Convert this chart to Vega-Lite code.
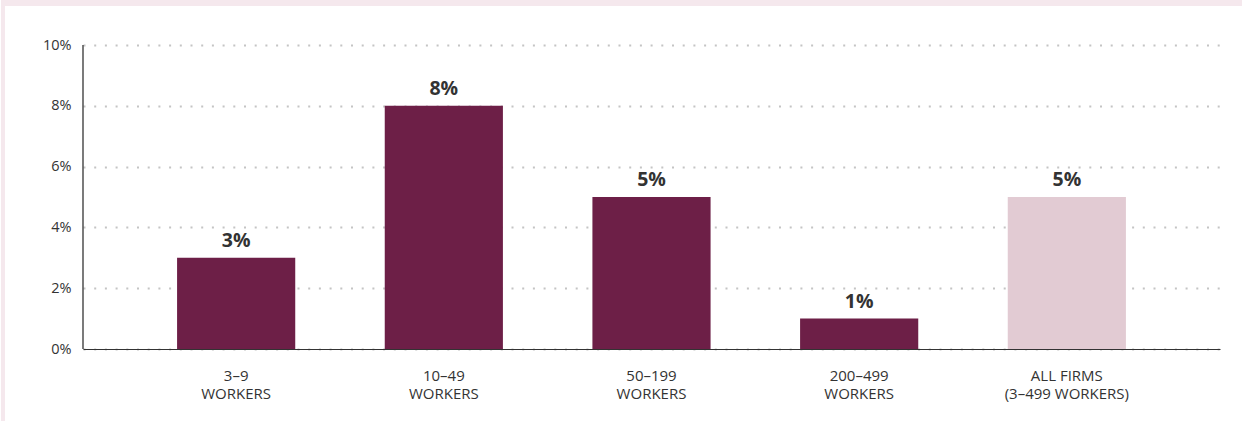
{
  "$schema": "https://vega.github.io/schema/vega-lite/v6.json",
  "padding": 0,
  "background": "#ffffff",
  "config": {"font": "Open Sans", "view": {"stroke": null}},
  "spacing": 0,
  "vconcat": [
    {
      "width": 1242,
      "height": 6,
      "view": {"fill": "#f5e8ed", "stroke": null},
      "data": {"values": [{}]},
      "mark": {"type": "point", "opacity": 0},
      "encoding": {}
    },
    {
      "spacing": 0,
      "hconcat": [
        {
          "width": 4,
          "height": 415,
          "view": {"fill": "#f5e8ed", "stroke": null},
          "data": {"values": [{}]},
          "mark": {"type": "point", "opacity": 0},
          "encoding": {}
        },
        {
          "width": 1137,
          "height": 343,
          "data": {
            "values": [
              {"group": "3–9|WORKERS", "value": 0.03, "kind": "size"},
              {"group": "10–49|WORKERS", "value": 0.08, "kind": "size"},
              {"group": "50–199|WORKERS", "value": 0.05, "kind": "size"},
              {"group": "200–499|WORKERS", "value": 0.01, "kind": "size"},
              {"group": "ALL FIRMS|(3–499 WORKERS)", "value": 0.05, "kind": "all"}
            ]
          },
          "resolve": {"scale": {"x": "independent"}},
          "layer": [
            {
              "encoding": {
                "x": {
                  "field": "group",
                  "type": "nominal",
                  "sort": null,
                  "scale": {"type": "band", "paddingInner": 0.431, "paddingOuter": 0.453},
                  "axis": {
                    "title": null,
                    "labelAngle": 0,
                    "ticks": false,
                    "domainColor": "#333333",
                    "domainWidth": 1.2,
                    "labelColor": "#333333",
                    "labelFontSize": 15,
                    "labelPadding": 19,
                    "labelLineHeight": 18,
                    "labelExpr": "split(datum.label, '|')"
                  }
                },
                "y": {
                  "field": "value",
                  "type": "quantitative",
                  "scale": {"domain": [0, 0.112829], "nice": false},
                  "axis": {
                    "title": null,
                    "format": ".0%",
                    "values": [0, 0.02, 0.04, 0.06, 0.08, 0.1],
                    "ticks": false,
                    "domain": false,
                    "labelColor": "#333333",
                    "labelFontSize": 14.5,
                    "labelPadding": 12,
                    "minExtent": 77,
                    "grid": true,
                    "gridColor": "#c4c4c4",
                    "gridDash": [2, 8.7],
                    "gridWidth": 2
                  }
                }
              },
              "layer": [
                {
                  "mark": {"type": "bar"},
                  "encoding": {
                    "color": {
                      "field": "kind",
                      "type": "nominal",
                      "scale": {"domain": ["size", "all"], "range": ["#6d1f47", "#e2cbd3"]},
                      "legend": null
                    }
                  }
                },
                {
                  "mark": {"type": "text", "baseline": "alphabetic", "dy": -11, "fontSize": 19.5, "fontWeight": "bold", "color": "#333333"},
                  "encoding": {
                    "text": {"field": "value", "type": "quantitative", "format": ".0%"}
                  }
                }
              ]
            },
            {
              "data": {"values": [{"start": 0, "end": 0.1, "pos": 0}]},
              "mark": {"type": "rule", "color": "#222222", "strokeWidth": 1.2},
              "encoding": {
                "x": {"field": "pos", "type": "quantitative", "scale": {"domain": [0, 1]}, "axis": null},
                "y": {"field": "start", "type": "quantitative"},
                "y2": {"field": "end"}
              }
            }
          ]
        }
      ]
    }
  ]
}
